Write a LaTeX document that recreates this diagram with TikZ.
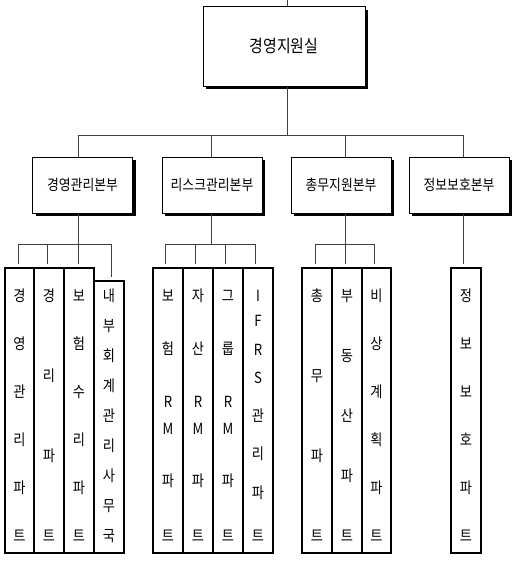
\documentclass[tikz,border=0pt]{standalone}
\usepackage{fontspec}
\setmainfont{Noto Sans CJK KR}[FakeStretch=0.86]
\usetikzlibrary{shadows}
\def\px{0.75pt}
\newcommand\leafcol[5]{%
  \node[leaf, minimum width={(#3-#2)*0.75pt}, minimum height={(553-#4)*0.75pt}] (#1) at ({(#2+#3)/2},{(553+#4)/2}) {};
  \foreach \ch/\yy [count=\k] in {#5} \node[lchar] (#1-\k) at ({(#2+#3)/2},\yy) {\ch};
}
\begin{document}
\begin{tikzpicture}[x=0.75pt,y=-0.75pt,
  conn/.style={draw=black!75, line width=0.75pt},
  shad/.style={drop shadow={shadow xshift=2.25pt, shadow yshift=-2.25pt, opacity=1, fill=black}},
  topbox/.style={draw=black, line width=0.75pt, fill=white, shad, minimum width=162*0.75pt, minimum height=79*0.75pt, inner sep=0pt, font=\fontsize{13pt}{15pt}\selectfont},
  divbox/.style={draw=black, line width=0.75pt, fill=white, shad, minimum width=100*0.75pt, minimum height=56*0.75pt, inner sep=0pt, font=\fontsize{11.2pt}{13pt}\selectfont},
  leaf/.style={draw=black, line width=1.5pt, fill=white, inner sep=0pt},
  lchar/.style={inner sep=0pt, text height=0.88em, text depth=0.12em, font=\fontsize{11.5pt}{13pt}\selectfont},
]
\useasboundingbox (0,0) rectangle (515,567);

% top
\node[topbox] (top) at (284,46.5) {경영지원실};
\coordinate (in) at (287,0);
\draw[conn] (in) -- (in |- top.north);

% divisions
\node[divbox] (d1) at (82.5,185) {경영관리본부};
\node[divbox] (d2) at (212,185) {리스크관리본부};
\node[divbox] (d3) at (341,185) {총무지원본부};
\node[divbox] (d4) at (459,185) {정보보호본부};

\coordinate (b0) at (287,135);
\coordinate (b1) at (78,135);
\coordinate (b2) at (211,135);
\coordinate (b3) at (345,135);
\coordinate (b4) at (463,135);
\draw[conn] (top.south -| b0) -- (b0);
\draw[conn] (b1) -- (b4);
\foreach \i in {1,...,4} \draw[conn] (b\i) -- (b\i |- d\i.north);

% leaves
\leafcol{l11}{5}{34}{268}{경/296,영/344,관/392,리/440,파/488,트/536}
\leafcol{l12}{34}{64}{268}{경/296,리/376,파/456,트/536}
\leafcol{l13}{64}{94}{268}{보/296,험/344,수/392,리/440,파/488,트/536}
\leafcol{l14}{94}{124}{281}{내/296,부/326,회/356,계/386,관/416,리/446,사/476,무/506,국/536}

\leafcol{l21}{153}{183}{268}{보/296,험/349,R/402,M/429,파/481,트/536}
\leafcol{l22}{183}{213}{268}{자/296,산/349,R/402,M/429,파/481,트/536}
\leafcol{l23}{213}{243}{268}{그/296,룹/349,R/402,M/429,파/481,트/536}
\leafcol{l24}{243}{273}{268}{I/296,F/321,R/350,S/378,관/416,리/454,파/493,트/536}

\leafcol{l31}{302}{332}{268}{총/296,무/376,파/456,트/536}
\leafcol{l32}{332}{362}{268}{부/296,동/356,산/416,파/476,트/536}
\leafcol{l33}{362}{391}{268}{비/296,상/344,계/392,획/440,파/488,트/536}

\leafcol{l41}{451}{481}{268}{정/296,보/344,보/392,호/440,파/488,트/536}

% group 1 connectors
\coordinate (g11) at (18,244);
\coordinate (g12) at (47,244);
\coordinate (g13) at (78,244);
\coordinate (g14) at (111,244);
\draw[conn] (d1.south -| g13) -- (g13);
\draw[conn] (g11) -- (g14);
\foreach \i in {1,...,4} \draw[conn, shorten >=2.25pt] (g1\i) -- (g1\i |- l1\i.north);

% group 2 connectors
\coordinate (g2m) at (211,244);
\coordinate (g21) at (165,244);
\coordinate (g22) at (195,244);
\coordinate (g23) at (225,244);
\coordinate (g24) at (255,244);
\draw[conn] (d2.south -| g2m) -- (g2m);
\draw[conn] (g21) -- (g24);
\foreach \i in {1,...,4} \draw[conn, shorten >=2.25pt] (g2\i) -- (g2\i |- l2\i.north);

% group 3 connectors
\coordinate (g31) at (315,244);
\coordinate (g32) at (345,244);
\coordinate (g33) at (374,244);
\draw[conn] (d3.south -| g32) -- (g32);
\draw[conn] (g31) -- (g33);
\foreach \i in {1,...,3} \draw[conn, shorten >=2.25pt] (g3\i) -- (g3\i |- l3\i.north);

% group 4 connector
\coordinate (g41) at (463,244);
\draw[conn, shorten >=2.25pt] (d4.south -| g41) -- (g41 |- l41.north);
\end{tikzpicture}
\end{document}
